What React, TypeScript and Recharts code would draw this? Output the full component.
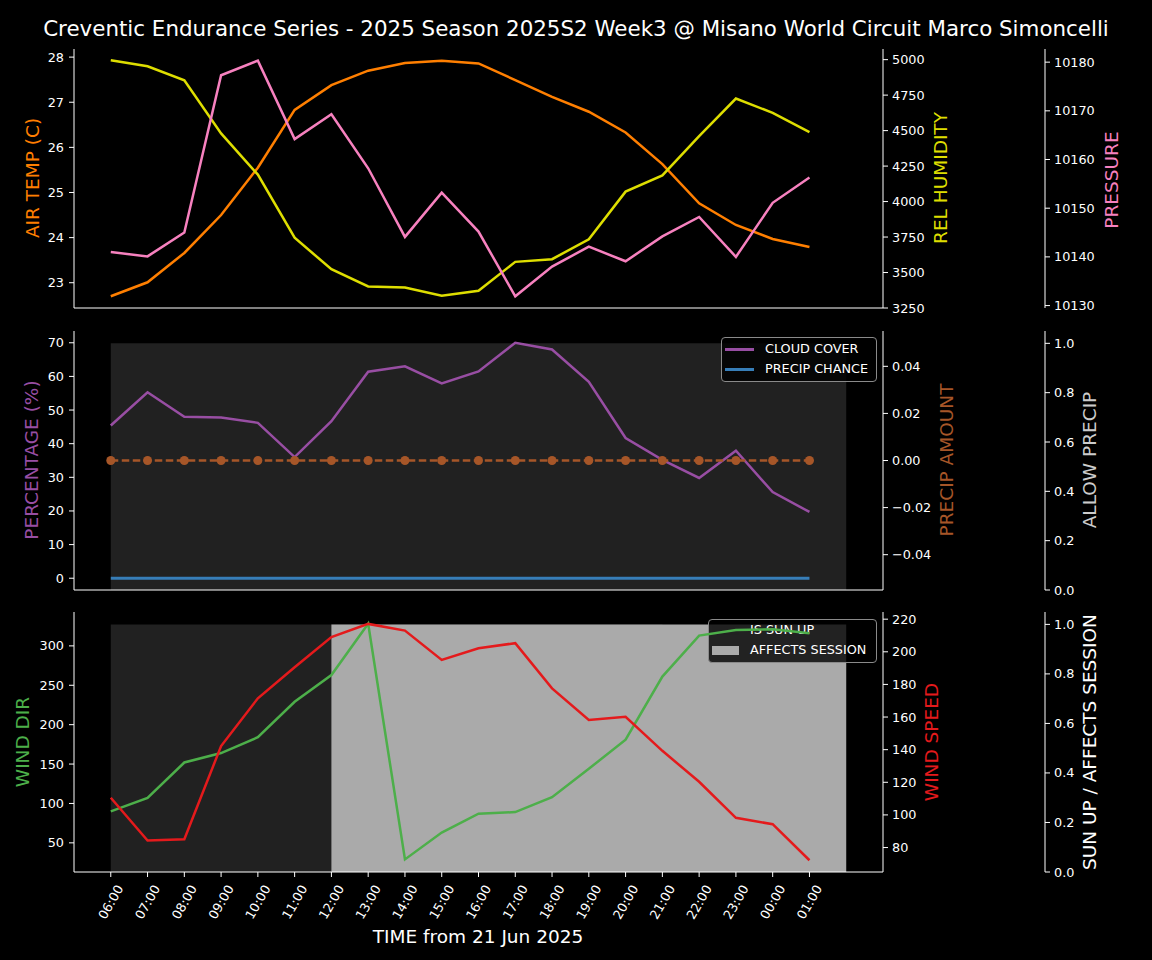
import React from 'react';
import { ComposedChart, Line, Area, XAxis, YAxis } from 'recharts';

const FONT = '"DejaVu Sans", sans-serif';

// hourly samples, 06:00 on 21 Jun through 01:00 next day
const hours = [
  '06:00', '07:00', '08:00', '09:00', '10:00', '11:00', '12:00', '13:00', '14:00', '15:00',
  '16:00', '17:00', '18:00', '19:00', '20:00', '21:00', '22:00', '23:00', '00:00', '01:00',
];
const airTemp = [22.7, 23.01, 23.66, 24.5, 25.55, 26.83, 27.38, 27.7, 27.87, 27.92, 27.86, 27.49, 27.12, 26.79, 26.33, 25.63, 24.76, 24.28, 23.97, 23.79];
const relHumidity = [4995, 4953, 4855, 4480, 4190, 3745, 3523, 3402, 3395, 3336, 3371, 3575, 3594, 3734, 4070, 4184, 4461, 4726, 4625, 4489];
const pressure = [10141.0, 10140.1, 10145.0, 10177.3, 10180.3, 10164.2, 10169.3, 10158.2, 10144.1, 10153.2, 10145.2, 10131.9, 10138.0, 10142.1, 10139.1, 10144.2, 10148.2, 10140.0, 10151.1, 10156.3];
const cloudCover = [45.4, 55.3, 48.0, 47.8, 46.2, 36.0, 46.7, 61.4, 63.0, 57.9, 61.5, 70.0, 68.0, 58.4, 41.7, 35.2, 29.8, 37.9, 25.6, 19.7];
const precipChance = [0, 0, 0, 0, 0, 0, 0, 0, 0, 0, 0, 0, 0, 0, 0, 0, 0, 0, 0, 0];
const precipAmount = [0, 0, 0, 0, 0, 0, 0, 0, 0, 0, 0, 0, 0, 0, 0, 0, 0, 0, 0, 0];
const windDir = [90, 107, 152, 164, 184, 229, 263, 328, 29, 63, 87, 89, 108, 144, 181, 261, 313, 320, 321, 316];
const windSpeed = [110.5, 84.3, 85.1, 142.2, 171.5, 190.5, 209.0, 217.1, 213.0, 195.0, 202.2, 205.3, 177.6, 158.2, 160.2, 139.3, 120.3, 98.2, 94.3, 72.2];
// flags run one step further (to 02:00) so the shaded spans close
const allowPrecip = [1, 1, 1, 1, 1, 1, 1, 1, 1, 1, 1, 1, 1, 1, 1, 1, 1, 1, 1, 1, 1];
const sunUp = [1, 1, 1, 1, 1, 1, 1, 1, 1, 1, 1, 1, 1, 1, 1, 0, 0, 0, 0, 0, 0];
const affectsSession = [0, 0, 0, 0, 0, 0, 1, 1, 1, 1, 1, 1, 1, 1, 1, 1, 1, 1, 1, 1, 1];

const hourTicks = hours.map((_, i) => i);

const rows = allowPrecip.map((_, i) => ({
  t: i,
  airTemp: airTemp[i],
  relHumidity: relHumidity[i],
  pressure: pressure[i],
  cloudCover: cloudCover[i],
  precipChance: precipChance[i],
  precipAmount: precipAmount[i],
  allowPrecip: allowPrecip[i],
  windDir: windDir[i],
  windSpeed: windSpeed[i],
  sunUp: sunUp[i],
  affectsSession: affectsSession[i],
}));

const C = {
  orange: '#ff7f00',
  yellow: '#dede00',
  pink: '#f781bf',
  purple: '#984ea3',
  blue: '#377eb8',
  brown: '#a65628',
  green: '#4daf4a',
  red: '#e41a1c',
  shade: '#212121',
  session: '#aaaaaa',
};

const TICK_FS = 12.8;
const LABEL_FS = 18.5;
const LW = 2.5;

type YCfg = {
  id: string;
  side: 'left' | 'right';
  width: number;
  domain: [number, number];
  ticks: number[];
  fmt?: (v: number) => string;
};

const fixed = (d: number) => (v: number) => (v < 0 ? '\u2212' : '') + Math.abs(v).toFixed(d);

// right axes get stacked in id order, so ids are prefixed r1 / r2
const renderY = (cfg: YCfg[], visible: boolean) =>
  cfg.map((c) => (
    <YAxis
      key={c.id}
      yAxisId={c.id}
      orientation={c.side}
      width={c.width}
      type="number"
      domain={c.domain}
      ticks={c.ticks}
      allowDataOverflow
      interval={0}
      axisLine={visible ? { stroke: '#fff' } : false}
      tickLine={visible ? { stroke: '#fff' } : false}
      tick={visible ? { fill: '#fff', fontSize: TICK_FS, fontFamily: FONT } : false}
      tickSize={5}
      tickMargin={c.side === 'left' ? 5 : 4}
      tickFormatter={c.fmt}
    />
  ));

const XTick = (props: any) => {
  const { x, y, payload } = props;
  const cy = y + 23;
  return (
    <text
      x={x}
      y={cy}
      transform={`rotate(-60, ${x}, ${cy})`}
      textAnchor="middle"
      dominantBaseline="central"
      fill="#fff"
      fontSize={TICK_FS}
      fontFamily={FONT}
    >
      {hours[payload.value]}
    </text>
  );
};

const renderX = (visible: boolean, labels: boolean, height: number) => [
  <XAxis
    key="b"
    xAxisId="b"
    dataKey="t"
    type="number"
    domain={[-1, 21]}
    ticks={hourTicks}
    allowDataOverflow
    interval={0}
    height={height}
    axisLine={visible ? { stroke: '#fff' } : false}
    tickLine={visible ? { stroke: '#fff' } : false}
    tick={visible && labels ? XTick : false}
    tickSize={5}
  />,
  <XAxis
    key="t"
    xAxisId="t"
    orientation="top"
    dataKey="t"
    type="number"
    domain={[-1, 21]}
    ticks={[]}
    allowDataOverflow
    height={0}
    axisLine={visible ? { stroke: '#fff' } : false}
    tickLine={false}
    tick={false}
  />,
];

type PanelProps = {
  top: number;
  plotH: number;
  xh: number;
  labels: boolean;
  yCfg: YCfg[];
  bg?: React.ReactNode;
  fg: React.ReactNode;
  legend?: React.ReactNode;
};

const Panel = ({ top, plotH, xh, labels, yCfg, bg, fg, legend }: PanelProps) => {
  const mt = 10;
  const h = mt + plotH + xh;
  const margin = { top: mt, right: 0, bottom: 0, left: 0 };
  const style: React.CSSProperties = { position: 'absolute', left: 0, top: top - mt };
  return (
    <>
      <div style={style}>
        <ComposedChart width={1152} height={h} data={rows} margin={margin}>
          {renderX(false, labels, xh)}
          {renderY(yCfg, false)}
          {bg}
        </ComposedChart>
      </div>
      {legend}
      <div style={style}>
        <ComposedChart width={1152} height={h} data={rows} margin={margin}>
          {renderX(true, labels, xh)}
          {renderY(yCfg, true)}
          {fg}
        </ComposedChart>
      </div>
    </>
  );
};

const line = (yAxisId: string, dataKey: string, stroke: string, extra: any = {}) => (
  <Line
    key={dataKey}
    xAxisId="b"
    yAxisId={yAxisId}
    dataKey={dataKey}
    type="linear"
    stroke={stroke}
    strokeWidth={LW}
    dot={false}
    activeDot={false}
    isAnimationActive={false}
    {...extra}
  />
);

const area = (yAxisId: string, dataKey: string, fill: string) => (
  <Area
    key={dataKey}
    xAxisId="b"
    yAxisId={yAxisId}
    dataKey={dataKey}
    type="stepAfter"
    stroke="none"
    fill={fill}
    fillOpacity={1}
    dot={false}
    activeDot={false}
    isAnimationActive={false}
  />
);

const legendBox = (left: number, top: number, width: number, height: number, children: React.ReactNode) => (
  <div
    style={{
      position: 'absolute',
      left,
      top,
      width,
      height,
      boxSizing: 'border-box',
      border: '1px solid #8a8a8a',
      borderRadius: 4,
      background: 'rgba(0,0,0,0.8)',
      fontFamily: FONT,
      fontSize: 12.8,
      color: '#fff',
    }}
  >
    {children}
  </div>
);

const legendRow = (top: number, handle: React.ReactNode, text: string, textLeft: number) => (
  <div key={text} style={{ position: 'absolute', left: 0, top, width: '100%', height: 0 }}>
    {handle}
    <span style={{ position: 'absolute', left: textLeft, top: -8, lineHeight: '16px', whiteSpace: 'nowrap' }}>{text}</span>
  </div>
);

const lineHandle = (color: string) => (
  <div style={{ position: 'absolute', left: 3, top: -1, width: 29, height: 2.5, background: color }} />
);
const patchHandle = (color: string) => (
  <div style={{ position: 'absolute', left: 3, top: -4.5, width: 27, height: 9, background: color }} />
);

const axisLabels = [
  { text: 'AIR TEMP (C)', x: 32, y: 178, color: C.orange },
  { text: 'REL HUMIDITY', x: 940, y: 178, color: C.yellow },
  { text: 'PRESSURE', x: 1111, y: 180, color: C.pink },
  { text: 'PERCENTAGE (%)', x: 31, y: 460, color: C.purple },
  { text: 'PRECIP AMOUNT', x: 946, y: 460, color: C.brown },
  { text: 'ALLOW PRECIP', x: 1089, y: 460, color: '#cccccc' },
  { text: 'WIND DIR', x: 22, y: 742, color: C.green },
  { text: 'WIND SPEED', x: 931, y: 742, color: C.red },
  { text: 'SUN UP / AFFECTS SESSION', x: 1089, y: 742, color: '#ffffff' },
];

export default function App() {
  return (
    <div style={{ position: 'absolute', left: 0, top: 0, width: 1152, height: 960, background: '#000', overflow: 'hidden' }}>
      <Panel
        top={49}
        plotH={259}
        xh={10}
        labels={false}
        yCfg={[
          { id: 'l_temp', side: 'left', width: 74, domain: [22.44, 28.18], ticks: [23, 24, 25, 26, 27, 28] },
          { id: 'r1_hum', side: 'right', width: 162, domain: [3250, 5075], ticks: [3250, 3500, 3750, 4000, 4250, 4500, 4750, 5000] },
          { id: 'r2_pres', side: 'right', width: 107, domain: [10129.5, 10182.7], ticks: [10130, 10140, 10150, 10160, 10170, 10180] },
        ]}
        fg={[
          line('l_temp', 'airTemp', C.orange),
          line('r1_hum', 'relHumidity', C.yellow),
          line('r2_pres', 'pressure', C.pink),
        ]}
      />
      <Panel
        top={331}
        plotH={259}
        xh={10}
        labels={false}
        yCfg={[
          { id: 'l_pct', side: 'left', width: 74, domain: [-3.5, 73.5], ticks: [0, 10, 20, 30, 40, 50, 60, 70] },
          { id: 'r1_amt', side: 'right', width: 162, domain: [-0.055, 0.055], ticks: [-0.04, -0.02, 0, 0.02, 0.04], fmt: fixed(2) },
          { id: 'r2_allow', side: 'right', width: 107, domain: [0, 1.05], ticks: [0, 0.2, 0.4, 0.6, 0.8, 1], fmt: fixed(1) },
        ]}
        bg={[area('r2_allow', 'allowPrecip', C.shade)]}
        fg={[
          line('l_pct', 'cloudCover', C.purple),
          line('l_pct', 'precipChance', C.blue, { strokeWidth: 3 }),
          line('r1_amt', 'precipAmount', C.brown, {
            strokeDasharray: '7.5 3.5',
            dot: { r: 4.5, fill: C.brown, stroke: C.brown, strokeWidth: 0, strokeDasharray: '0' },
          }),
        ]}
        legend={legendBox(721, 337, 156, 45, [
          legendRow(11, lineHandle(C.purple), 'CLOUD COVER', 43),
          legendRow(31, lineHandle(C.blue), 'PRECIP CHANCE', 43),
        ])}
      />
      <Panel
        top={612}
        plotH={260}
        xh={70}
        labels
        yCfg={[
          { id: 'l_dir', side: 'left', width: 74, domain: [13, 343], ticks: [50, 100, 150, 200, 250, 300] },
          { id: 'r1_spd', side: 'right', width: 162, domain: [65, 224.4], ticks: [80, 100, 120, 140, 160, 180, 200, 220] },
          { id: 'r2_sun', side: 'right', width: 107, domain: [0, 1.05], ticks: [0, 0.2, 0.4, 0.6, 0.8, 1], fmt: fixed(1) },
        ]}
        bg={[area('r2_sun', 'sunUp', C.shade), area('r2_sun', 'affectsSession', C.session)]}
        fg={[line('l_dir', 'windDir', C.green), line('r1_spd', 'windSpeed', C.red)]}
        legend={legendBox(708, 619, 169, 44, [
          legendRow(10, patchHandle(C.shade), 'IS SUN UP', 41),
          legendRow(30, patchHandle(C.session), 'AFFECTS SESSION', 41),
        ])}
      />
      <svg width={1152} height={960} style={{ position: 'absolute', left: 0, top: 0, pointerEvents: 'none' }}>
        <text x={576} y={28} textAnchor="middle" dominantBaseline="central" fill="#fff" fontSize={21.4} fontFamily={FONT}>
          Creventic Endurance Series - 2025 Season 2025S2 Week3 @ Misano World Circuit Marco Simoncelli
        </text>
        {axisLabels.map((l) => (
          <text
            key={l.text}
            x={l.x}
            y={l.y}
            transform={`rotate(-90, ${l.x}, ${l.y})`}
            textAnchor="middle"
            dominantBaseline="central"
            fill={l.color}
            fontSize={LABEL_FS}
            fontFamily={FONT}
          >
            {l.text}
          </text>
        ))}
        <text x={478} y={936} textAnchor="middle" dominantBaseline="central" fill="#fff" fontSize={LABEL_FS} fontFamily={FONT}>
          TIME from 21 Jun 2025
        </text>
      </svg>
    </div>
  );
}
